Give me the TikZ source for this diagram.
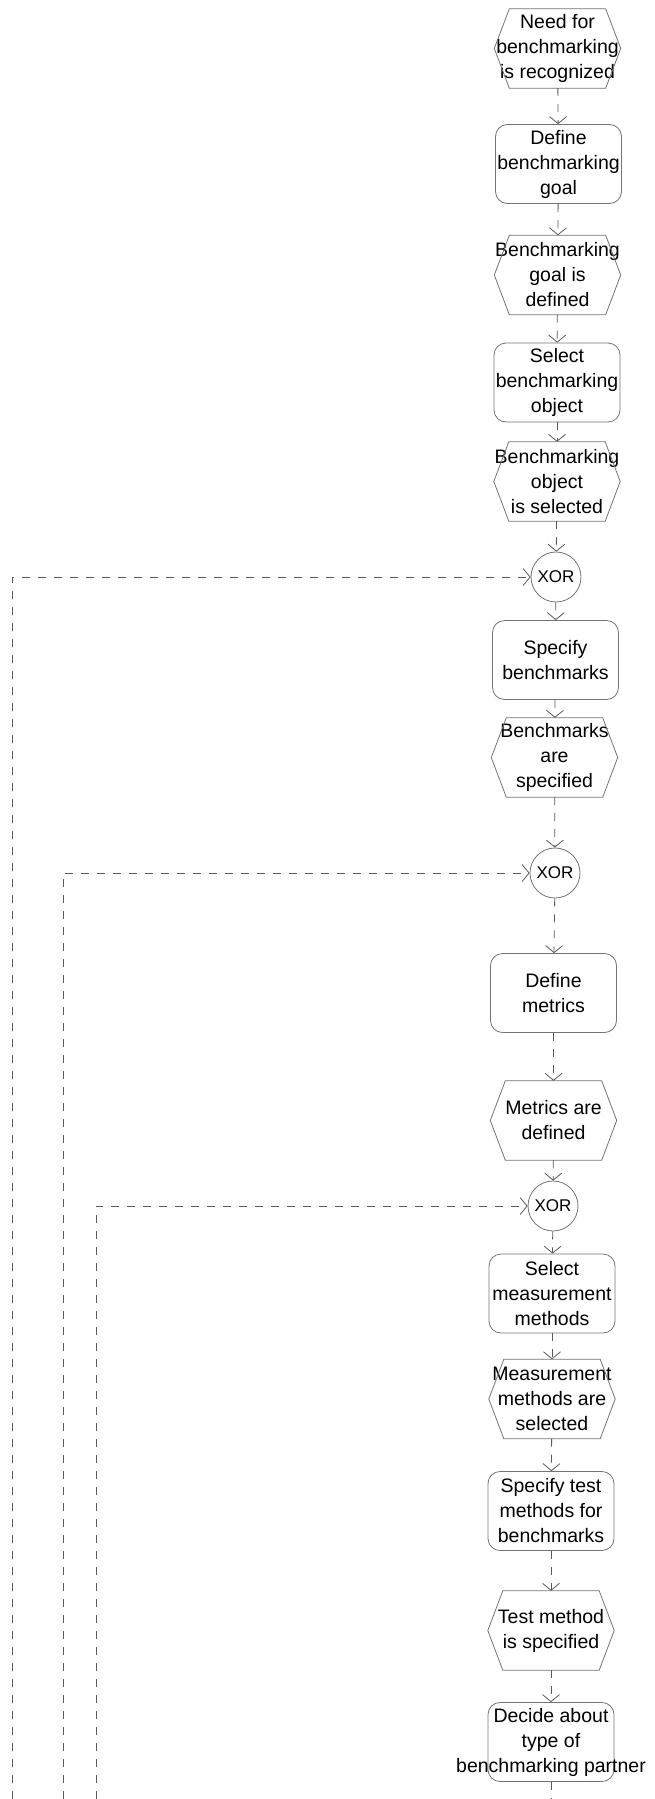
\documentclass[tikz,border=0pt]{standalone}
\usepackage{fontspec}
\setmainfont{Liberation Sans}
\usetikzlibrary{arrows.meta}
\begin{document}
\begin{tikzpicture}[x=1pt,y=-1pt,
  flow/.style={draw=black!65, line width=0.8pt, dash pattern=on 8pt off 8pt,
    -{Straight Barb[length=7pt,width=17pt]}},
  base/.style={minimum width=126pt, minimum height=79pt, inner sep=0pt,
    align=center, font=\fontsize{19.5}{25}\selectfont},
  func/.style={base, draw=black!55, line width=0.8pt, rounded corners=12pt},
  evt/.style={base},
  evtline/.style={draw=black!55, line width=0.8pt, line join=miter},
  xor/.style={circle, draw=black!55, line width=0.8pt, minimum size=50pt,
    inner sep=0pt, font=\fontsize{17}{20}\selectfont}]
\useasboundingbox (0,0) rectangle (655,1799);

% main chain of events, functions and connectors
\node[evt]  (e1) at (557.5,48.5)  {Need for\\benchmarking\\is recognized};
\node[func] (f1) at (558.5,164)   {Define\\benchmarking\\goal};
\node[evt]  (e2) at (557.5,275)   {Benchmarking\\goal is\\defined};
\node[func] (f2) at (557,382.5)   {Select\\benchmarking\\object};
\node[evt]  (e3) at (557,481.5)   {Benchmarking\\object\\is selected};
\node[xor]  (x1) at (556,577)     {XOR};
\node[func] (f3) at (555.5,660)   {Specify\\benchmarks};
\node[evt]  (e4) at (554.5,757.5) {Benchmarks\\are\\specified};
\node[xor]  (x2) at (555,873)     {XOR};
\node[func] (f4) at (553.5,993)   {Define\\metrics};
\node[evt]  (e5) at (553.5,1120.5){Metrics are\\defined};
\node[xor]  (x3) at (553,1206)    {XOR};
\node[func] (f5) at (552,1293.5)  {Select\\measurement\\methods};
\node[evt]  (e6) at (552,1399)    {Measurement\\methods are\\selected};
\node[func] (f6) at (551,1511)    {Specify test\\methods for\\benchmarks};
\node[evt]  (e7) at (551,1630.5)  {Test method\\is specified};
\node[func] (f7) at (551,1742)    {Decide about\\type of\\\makebox[0pt]{benchmarking partner}};

% hexagonal outlines of the events
\foreach \n in {e1,e2,e3,e4,e5,e6,e7}
  \draw[evtline] ([xshift=15pt]\n.north west) -- ([xshift=-15pt]\n.north east)
    -- (\n.east) -- ([xshift=-15pt]\n.south east) -- ([xshift=15pt]\n.south west)
    -- (\n.west) -- cycle;

\draw[flow] (e1) -- (f1);
\draw[flow] (f1) -- (e2);
\draw[flow] (e2) -- (f2);
\draw[flow] (f2) -- (e3);
\draw[flow] (e3) -- (x1);
\draw[flow] (x1) -- (f3);
\draw[flow] (f3) -- (e4);
\draw[flow] (e4) -- (x2);
\draw[flow] (x2) -- (f4);
\draw[flow] (f4) -- (e5);
\draw[flow] (e5) -- (x3);
\draw[flow] (x3) -- (f5);
\draw[flow] (f5) -- (e6);
\draw[flow] (e6) -- (f6);
\draw[flow] (f6) -- (e7);
\draw[flow] (e7) -- (f7);

% outgoing connector and the return loops into the XOR joins
\coordinate (out) at (551,1799);
\draw[flow, -] (f7) -- (out);
\coordinate (l1) at (12,1799);
\coordinate (l2) at (63,1799);
\coordinate (l3) at (96,1799);
\draw[flow] (l1) |- (x1);
\draw[flow] (l2) |- (x2);
\draw[flow] (l3) |- (x3);
\end{tikzpicture}
\end{document}
